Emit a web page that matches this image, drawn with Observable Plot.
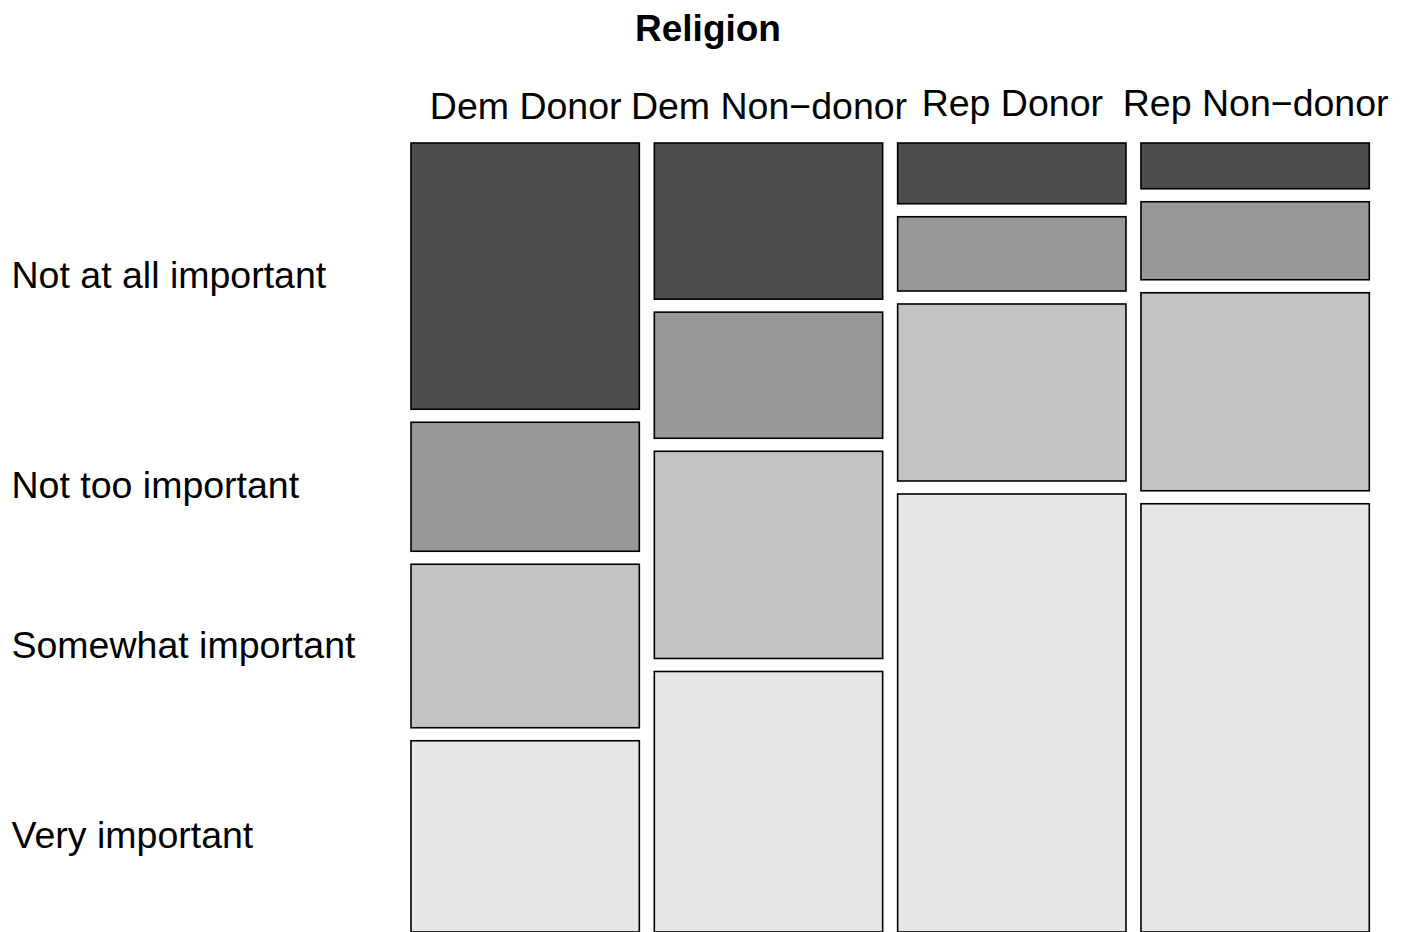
<!DOCTYPE html>
<html>
<head>
<meta charset="utf-8">
<script src="https://cdn.jsdelivr.net/npm/d3@7"></script>
<script src="https://cdn.jsdelivr.net/npm/@observablehq/plot@0.6"></script>
<style>
  html, body { margin: 0; padding: 0; background: white; }
  #chart svg { display: block; }
</style>
</head>
<body>
<div id="chart"></div>
<script>
const groups = ["Dem Donor", "Dem Non\u2212donor", "Rep Donor", "Rep Non\u2212donor"];
const party = ["Dem", "Dem", "Rep", "Rep"];
const levels = ["Not at all important", "Not too important", "Somewhat important", "Very important"];
const notAtAll = [35.5, 20.8, 8.1, 6.1];
const notToo = [17.2, 16.8, 9.9, 10.4];
const somewhat = [21.8, 27.6, 23.6, 26.4];
const very = [25.5, 34.7, 58.4, 57.1];
const fills = ["#4d4d4d", "#989898", "#c3c3c3", "#e6e6e6"];
const title = "Religion";

const series = [notAtAll, notToo, somewhat, very];

// ---- layout (gaps between tiles, in data units) ----
const gx = 15 / 228.4;   // horizontal gap relative to a column width of 1
const gy = 13 / 750;     // vertical gap relative to full column height of 1

const cells = [];
const colCenters = [];
groups.forEach((g, i) => {
  const total = d3.sum(series, s => s[i]);
  let cum = 0;
  const x1 = i * (1 + gx), x2 = x1 + 1;
  colCenters.push({group: g, party: party[i], x: (x1 + x2) / 2});
  series.forEach((s, j) => {
    const p = s[i] / total;
    const y1 = cum + j * gy;
    const y2 = y1 + p;
    cells.push({group: g, level: levels[j], x1, x2, y1, y2});
    cum += p;
  });
});
const rowLabels = cells.filter(c => c.group === groups[0]).map(c => ({level: c.level, y: (c.y1 + c.y2) / 2}));

const FONT = "'Liberation Sans', Arial, Helvetica, sans-serif";
const FS = 37.5;

const chart = Plot.plot({
  width: 1408,
  height: 932,
  marginTop: 143,
  marginBottom: 0,
  marginLeft: 411,
  marginRight: 39,
  style: {fontFamily: FONT, fontSize: FS + "px", background: "white", color: "black"},
  x: {domain: [0, 4 + 3 * gx], range: [411, 1369.3], axis: null},
  y: {domain: [0, 1 + 3 * gy], range: [143, 932], axis: null},
  color: {domain: levels, range: fills, legend: false},
  marks: [
    Plot.rect(cells, {x1: "x1", x2: "x2", y1: "y1", y2: "y2", fill: "level", stroke: "black", strokeWidth: 1.6}),
    Plot.text(rowLabels, {x: () => 0, y: "y", text: "level", textAnchor: "start", lineAnchor: "middle", dx: -400, dy: -1, fontSize: FS, fill: "black"}),
    Plot.text(colCenters.filter(d => d.party === "Dem"), {x: "x", frameAnchor: "top", lineAnchor: "middle", text: "group", dy: -37, fontSize: FS, fill: "black"}),
    Plot.text(colCenters.filter(d => d.party === "Rep"), {x: "x", frameAnchor: "top", lineAnchor: "middle", text: "group", dy: -40, fontSize: FS, fill: "black"}),
    Plot.text([title], {frameAnchor: "top", lineAnchor: "middle", text: d => d, dx: -182.5, dy: -114.8, fontSize: 37, fontWeight: "bold", fill: "black"})
  ]
});
document.getElementById("chart").appendChild(chart);
</script>
</body>
</html>
